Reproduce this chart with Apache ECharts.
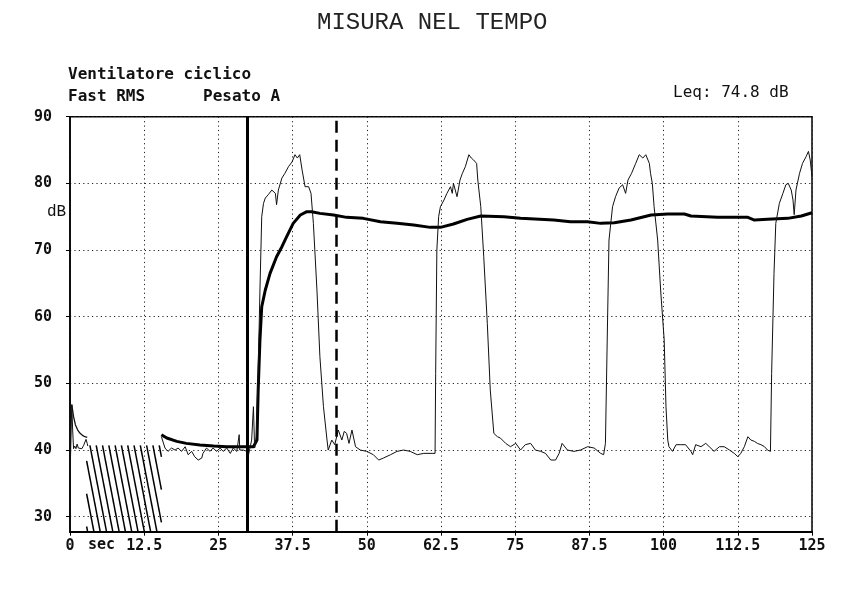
<!DOCTYPE html>
<html>
<head>
<meta charset="utf-8">
<script src="https://cdn.jsdelivr.net/npm/echarts@6/dist/echarts.min.js"></script>
<style>
html,body{margin:0;padding:0;background:#fff;}
#chart{width:846px;height:590px;}
</style>
</head>
<body>
<div id="chart"></div>
<script>
// ---- data ----
var xTicks = [0, 12.5, 25, 37.5, 50, 62.5, 75, 87.5, 100, 112.5, 125];
var yTicks = [30, 40, 50, 60, 70, 80, 90];

// Fast RMS level (thin line); null = no data (gap)
var fastTime = [0.05,0.3,0.45,0.6,0.8,1.0,1.2,1.4,1.7,2.0,2.3,2.5,2.7,2.9,3.0,
  9,
  15.4,16.0,16.3,16.5,17.1,17.7,18.2,18.8,19.4,19.9,20.5,21.0,21.6,22.2,22.4,23.0,23.6,24.1,24.7,25.3,25.8,26.4,27.0,27.5,28.1,28.5,28.6,29.2,29.8,30.0,30.6,30.9,31.1,31.4,31.5,31.7,32.0,32.3,32.6,32.9,33.4,34.0,34.6,34.8,35.1,35.7,36.2,36.8,37.4,37.9,38.3,38.7,39.1,39.6,40.2,40.6,41.0,41.6,42.1,42.7,43.3,43.5,44.1,44.6,45.2,45.8,46.2,46.6,47.0,47.5,48.1,48.9,50.0,51.1,52.0,52.8,54.0,55.1,56.2,57.3,58.5,59.6,61.0,61.5,61.6,61.8,62.1,62.4,63.0,63.5,64.1,64.4,64.6,65.2,65.7,66.1,66.6,67.2,67.6,68.0,68.5,68.7,69.2,69.7,70.3,70.8,71.4,72.0,72.5,73.4,74.2,75.1,75.9,76.7,77.6,78.4,79.3,80.1,81.0,81.8,82.4,82.9,83.8,84.9,86.0,87.2,88.3,89.4,89.9,90.2,90.5,90.8,91.4,91.9,92.5,93.1,93.6,94.0,94.6,95.3,95.9,96.5,97.0,97.6,97.8,98.1,98.4,99.0,99.5,100.1,100.4,100.7,100.9,101.5,102.1,102.9,103.7,104.6,104.9,105.4,106.3,107.1,107.7,108.5,109.4,110.2,111.1,111.9,112.5,113.0,113.6,114.2,114.7,115.3,115.8,116.4,117.0,117.5,118.0,118.2,118.6,118.9,119.5,120.1,120.6,121.0,121.5,121.8,122.0,122.3,122.9,123.4,124.0,124.4,124.7,125.0];
var fastLevel = [37.5,46.8,43.0,40.2,40.6,40.2,40.9,40.3,40.6,40.2,40.7,40.4,41.6,41.0,40.6,
  null,
  42.0,40.3,40.0,39.8,40.3,40.0,40.3,39.8,40.5,39.3,39.8,39.0,38.5,38.8,39.5,40.3,39.8,40.3,39.8,40.3,39.8,40.3,39.5,40.3,39.8,42.3,40.0,40.0,39.8,39.0,41.5,46.5,40.3,42.0,46.0,51.5,64.0,75.0,77.0,77.8,78.3,79.0,78.5,76.8,79.0,80.8,81.5,82.5,83.2,84.3,83.8,84.3,82.0,79.5,79.5,78.5,74.0,64.0,54.0,46.5,41.5,40.0,41.5,40.8,43.0,41.5,42.8,42.5,41.0,43.0,40.5,40.0,39.8,39.3,38.5,38.8,39.3,39.8,40.0,39.8,39.3,39.5,39.5,39.5,51.5,70.0,75.0,76.5,77.5,78.5,79.5,78.5,80.0,78.0,80.5,81.5,82.5,84.3,83.8,83.5,83.0,80.5,76.5,69.0,59.0,49.0,42.5,42.0,41.8,41.0,40.5,41.0,40.0,40.8,41.0,40.0,39.8,39.5,38.5,38.5,39.5,41.0,40.0,39.8,40.0,40.5,40.3,39.5,39.3,41.0,56.5,71.5,76.5,78.0,79.3,79.8,78.5,80.5,81.5,83.0,84.3,83.8,84.3,83.0,81.5,80.0,76.5,71.5,64.0,56.5,46.5,41.5,40.5,39.8,40.8,40.8,40.8,39.8,39.3,40.8,40.5,41.0,40.5,39.8,40.5,40.5,40.0,39.5,39.0,39.5,40.5,42.0,41.5,41.3,41.0,40.8,40.5,40.0,39.8,51.5,66.5,74.0,77.0,78.5,79.8,80.0,79.0,77.5,75.3,79.0,81.5,83.0,84.0,84.8,83.5,81.0];

// Leq at the very start (thin decaying trace)
var leqStartTime = [0.3,0.6,0.9,1.3,1.7,2.1,2.5,2.9];
var leqStartLevel = [46.8,45.0,43.8,43.0,42.5,42.2,42.0,41.9];

// Leq running level (thick line)
var leqTime = [15.4,16.3,18.0,19.6,21.9,24.2,26.4,28.6,30.9,31.5,31.7,32.0,32.3,32.9,33.7,34.8,35.7,36.5,37.6,38.8,39.9,40.7,42.1,44.4,46.6,49.4,52.3,55.1,57.9,60.7,62.4,64.6,66.9,69.2,73.1,75.9,81.5,84.3,87.2,89.4,91.7,94.5,97.9,100.7,103.5,104.6,109.1,114.2,115.3,117.5,120.9,123.2,125.0];
var leqLevel = [42.3,41.8,41.3,41.0,40.75,40.6,40.5,40.5,40.5,41.5,49.0,56.5,61.5,64.0,66.5,69.0,70.5,72.0,74.0,75.25,75.75,75.75,75.5,75.25,74.9,74.75,74.25,74.0,73.75,73.4,73.4,73.9,74.6,75.1,75.0,74.75,74.5,74.25,74.25,74.0,74.1,74.5,75.25,75.4,75.4,75.1,74.9,74.9,74.5,74.6,74.75,75.1,75.6];

// cursor markers (seconds)
var cursorSolid = 29.8;
var cursorDashed = 44.8;

// hatched (no data) region: [tStart, tEnd, levelTop]
var hatchRegion = [2.8, 15.4, 40.7];

var yMin = 27.75, yMax = 90;

// ---- build ----
function pairs(t, v){ var out=[]; for(var i=0;i<t.length;i++){ out.push([t[i], v[i]]); } return out; }

function renderHatch(params, api){
  var pTL = api.coord([api.value(0), api.value(2)]);
  var pBR = api.coord([api.value(1), yMin]);
  var L = pTL[0], R = pBR[0], T = pTL[1], B = pBR[1];
  var H = B - T, run = H / 5.2, step = 6.3;
  var children = [];
  for (var xs = L - run + 1; xs < R; xs += step){
    var ax = xs, ay = T, bx = xs + run, by = B;
    if (ax < L){ ay = T + (L - xs) / run * H; ax = L; }
    if (bx > R){ by = T + (R - xs) / run * H; bx = R; }
    if (ax >= bx) continue;
    children.push({type:'line', silent: true, shape:{x1:ax, y1:ay, x2:bx, y2:by},
      style:{stroke:'#000', lineWidth:1.5, lineCap:'butt'}});
  }
  return {type:'group', children: children};
}

var mono = 'DejaVu Sans Mono';
var chart = echarts.init(document.getElementById('chart'), null, {renderer:'canvas'});
chart.setOption({
  animation: false,
  backgroundColor: '#ffffff',
  grid: {left: 70, right: 34, top: 116.7, bottom: 58.3, show: true, borderColor: '#000', borderWidth: 1.5, backgroundColor: 'transparent'},
  xAxis: {
    type: 'value', min: xTicks[0], max: xTicks[xTicks.length-1], interval: 12.5,
    axisLine: {show: true, lineStyle: {color: '#000', width: 2}},
    axisTick: {show: true, length: 4, lineStyle: {color: '#000'}},
    axisLabel: {color: '#111', fontFamily: mono, fontWeight: 'bold', fontSize: 15, margin: 7,
      formatter: function(v){ return xTicks.indexOf(v) >= 0 ? String(v) : ''; }},
    splitLine: {show: true, lineStyle: {color: '#222', width: 1, type: [1.2, 3.2]}}
  },
  yAxis: {
    type: 'value', min: yMin, max: yMax, interval: 10,
    axisLine: {show: true, lineStyle: {color: '#000', width: 1.5}},
    axisTick: {show: true, length: 4, lineStyle: {color: '#000'}, customValues: yTicks},
    axisLabel: {color: '#111', fontFamily: mono, fontWeight: 'bold', fontSize: 15, margin: 18,
      customValues: yTicks,
      formatter: function(v){ return yTicks.indexOf(Math.round(v*100)/100) >= 0 ? String(v) : ''; }},
    splitLine: {show: true, lineStyle: {color: '#222', width: 1, type: [1.2, 3.2]}}
  },
  graphic: [
    {type:'text', left: 317, top: 11, style:{text:'MISURA NEL TEMPO', font:'24px "Liberation Mono"', fill:'#222'}},
    {type:'text', left: 68, top: 67, style:{text:'Ventilatore ciclico', font:'bold 16px "DejaVu Sans Mono"', fill:'#111'}},
    {type:'text', left: 68, top: 89, style:{text:'Fast RMS', font:'bold 16px "DejaVu Sans Mono"', fill:'#111'}},
    {type:'text', left: 203, top: 89, style:{text:'Pesato A', font:'bold 16px "DejaVu Sans Mono"', fill:'#111'}},
    {type:'text', left: 673, top: 85, style:{text:'Leq: 74.8 dB', font:'16px "DejaVu Sans Mono"', fill:'#111'}},
    {type:'text', left: 47, top: 204, style:{text:'dB', font:'16px "Liberation Mono"', fill:'#111'}},
    {type:'text', left: 88, top: 538, style:{text:'sec', font:'bold 15px "DejaVu Sans Mono"', fill:'#111'}}
  ],
  series: [
    {
      type: 'custom', name: 'hatch', coordinateSystem: 'cartesian2d', silent: true, clip: false,
      data: [hatchRegion], encode: {x: [0, 1], y: 2}, renderItem: renderHatch, z: 1
    },
    {
      type: 'line', name: 'LeqStart', data: pairs(leqStartTime, leqStartLevel), showSymbol: false,
      lineStyle: {color: '#111', width: 1.3}, z: 3
    },
    {
      type: 'line', name: 'Leq', data: pairs(leqTime, leqLevel), showSymbol: false,
      lineStyle: {color: '#000', width: 3}, z: 3
    },
    {
      type: 'line', name: 'Fast', data: pairs(fastTime, fastLevel), showSymbol: false, connectNulls: false,
      lineStyle: {color: '#111', width: 1}, z: 4,
      markLine: {silent: true, symbol: ['none','none'], label: {show: false},
        data: [
          {xAxis: cursorSolid, lineStyle: {color: '#000', width: 3, type: 'solid'}},
          {xAxis: cursorDashed, lineStyle: {color: '#000', width: 2.5, type: [12, 7]}}
        ]}
    }
  ]
});
</script>
</body>
</html>
